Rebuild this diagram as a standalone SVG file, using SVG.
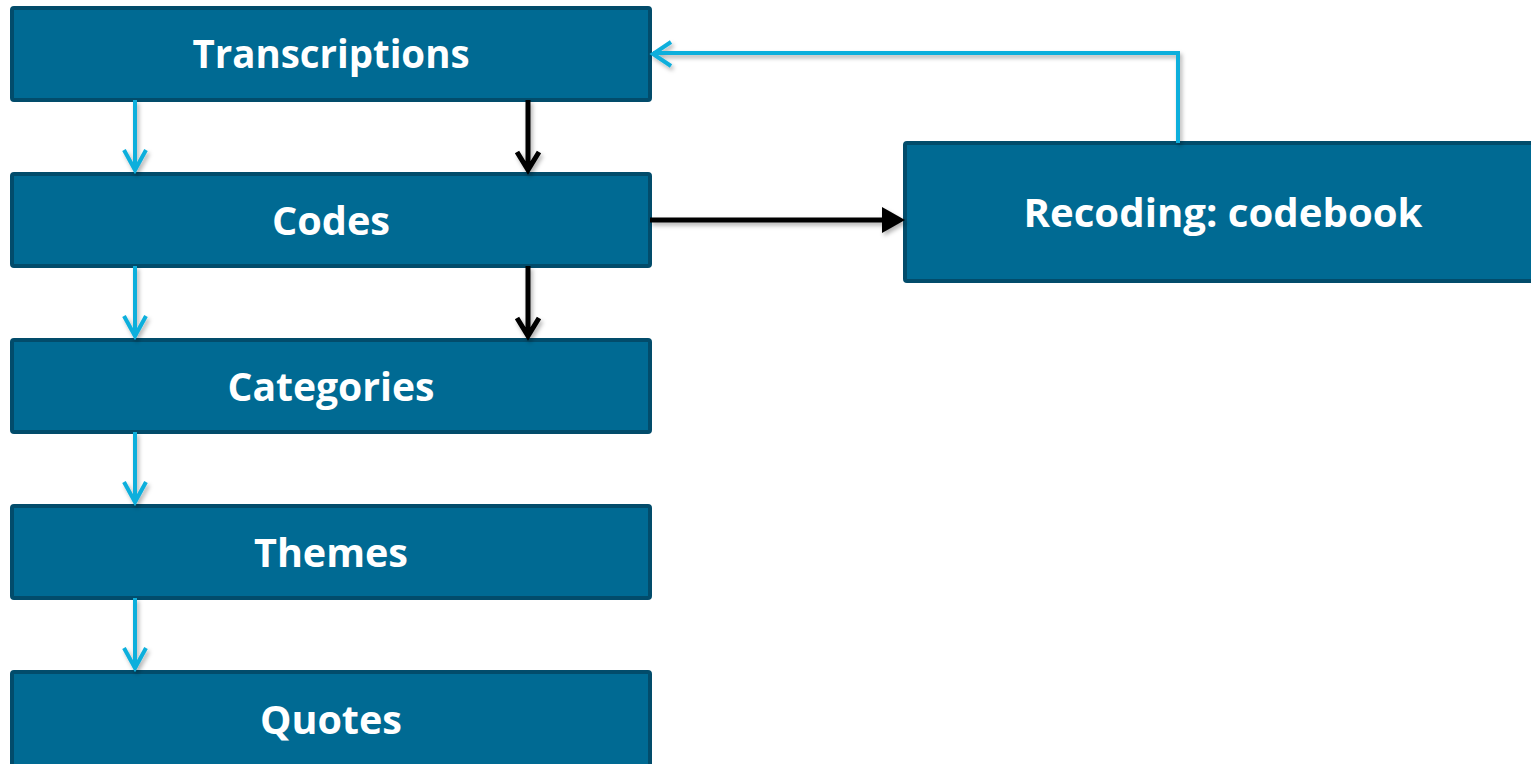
<svg xmlns="http://www.w3.org/2000/svg" width="1531" height="764" viewBox="0 0 1531 764">
<style>
.box{fill:#006a93;stroke:#024c6b;stroke-width:4}
.lbl{font-family:"Open Sans","Liberation Sans",sans-serif;font-weight:bold;font-size:39px;fill:#ffffff;text-anchor:middle}
.blue{stroke:#0bafdc;stroke-width:4;fill:none}
.black{stroke:#000;stroke-width:5;fill:none}
</style>
<defs>
<filter id="sh" x="-20%" y="-20%" width="140%" height="140%">
<feDropShadow dx="2" dy="3" stdDeviation="2" flood-color="#000" flood-opacity="0.3"/>
</filter>
</defs>
<g id="n-transcriptions"><rect class="box" x="12" y="8" width="638" height="92" rx="2"/><text class="lbl" x="331" y="68" textLength="277" lengthAdjust="spacingAndGlyphs">Transcriptions</text></g>
<g id="n-codes"><rect class="box" x="12" y="174" width="638" height="92" rx="2"/><text class="lbl" x="331" y="235" textLength="118" lengthAdjust="spacingAndGlyphs">Codes</text></g>
<g id="n-categories"><rect class="box" x="12" y="340" width="638" height="92" rx="2"/><text class="lbl" x="331" y="401" textLength="207" lengthAdjust="spacingAndGlyphs">Categories</text></g>
<g id="n-themes"><rect class="box" x="12" y="506" width="638" height="92" rx="2"/><text class="lbl" x="331" y="567" textLength="154" lengthAdjust="spacingAndGlyphs">Themes</text></g>
<g id="n-quotes"><rect class="box" x="12" y="672" width="638" height="96" rx="2"/><text class="lbl" x="331" y="734" textLength="142" lengthAdjust="spacingAndGlyphs">Quotes</text></g>
<g id="n-recoding"><rect class="box" x="905" y="143" width="630" height="138" rx="2"/><text class="lbl" x="1223" y="227" textLength="399" lengthAdjust="spacingAndGlyphs">Recoding: codebook</text></g>
<g id="connectors" filter="url(#sh)">
<path class="blue" d="M135 100V170M124 150L135 170L146 150"/>
<path class="blue" d="M135 266V336M124 316L135 336L146 316"/>
<path class="blue" d="M135 432V502M124 482L135 502L146 482"/>
<path class="blue" d="M135 598V668M124 648L135 668L146 648"/>
<path class="black" d="M528 100V168M517 152L528 170L539 152"/>
<path class="black" d="M528 266V334M517 318L528 336L539 318"/>
<path class="black" d="M650 220H885" stroke-width="6"/>
<polygon points="882,207 905,220 882,233" fill="#000"/>
<path class="blue" d="M1178 143V53H653M671 42L653 54L671 66"/>
</g>
</svg>
